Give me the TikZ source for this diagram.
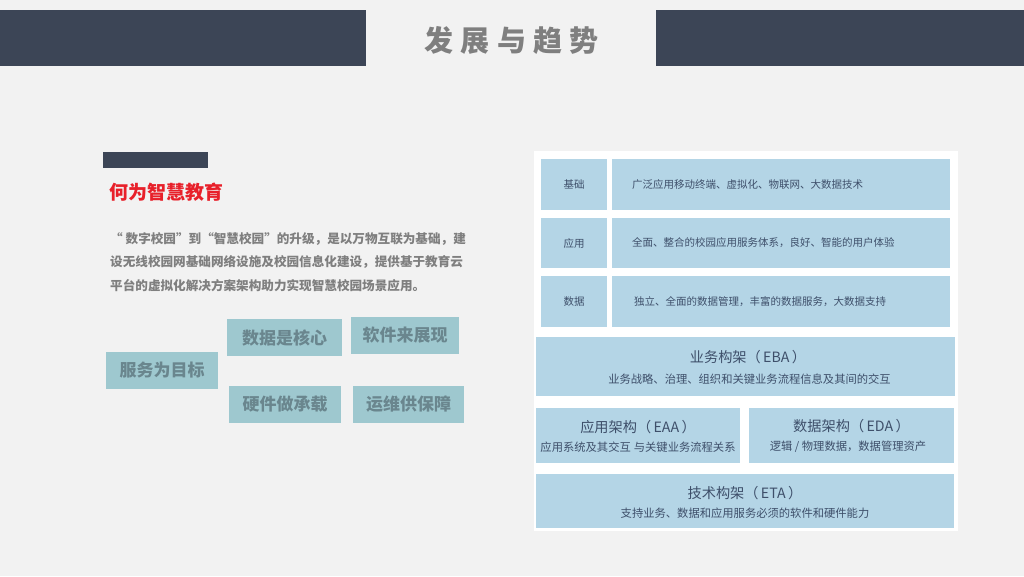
\documentclass[tikz,border=0pt]{standalone}
\usepackage{fontspec}
\setmainfont{Noto Sans CJK SC}
\definecolor{bg}{HTML}{F2F2F2}
\definecolor{bar}{HTML}{3C4556}
\definecolor{ttlgray}{HTML}{7F7F7F}
\definecolor{redt}{HTML}{E8202A}
\definecolor{lbox}{HTML}{9EC8CF}
\definecolor{ltext}{HTML}{6A868E}
\definecolor{rbox}{HTML}{B4D5E6}
\definecolor{rtext}{HTML}{3E4F6A}
\begin{document}
\begin{tikzpicture}[x=1pt,y=-1pt,
  lbx/.style={fill=lbox,draw=none,inner sep=0pt,minimum height=37pt,font=\fontsize{17}{20}\selectfont\bfseries,text=ltext},
  rbx/.style={fill=rbox,draw=none,inner sep=0pt},
  rsmall/.style={font=\fontsize{10.5}{12}\selectfont,text=rtext,inner sep=0pt},
  rtitle/.style={font=\fontsize{14.2}{16}\selectfont,text=rtext,inner sep=0pt},
  rsub/.style={font=\fontsize{11.3}{13}\selectfont,text=rtext,inner sep=0pt}]
\useasboundingbox (0,0) rectangle (1024,576);
\fill[bg] (0,0) rectangle (1024,576);
% banner
\fill[bar] (0,10) rectangle (366,66);
\fill[bar] (656,10) rectangle (1024,66);
\node[inner sep=0pt,text=ttlgray,font=\fontsize{29}{32}\selectfont\bfseries] (title) at (511.5,40)
  {发\hspace{7.5pt}展\hspace{7.5pt}与\hspace{7.5pt}趋\hspace{7.5pt}势};
% left heading
\fill[bar] (103,152) rectangle (208,168);
\node[anchor=west,inner sep=0pt,text=redt,font=\fontsize{19}{21}\selectfont\bfseries] (head) at (109,192) {何为智慧教育};
\node[anchor=north west,inner sep=0pt,align=left,text=ttlgray,font=\fontsize{12.6}{23.5}\selectfont\bfseries] (para) at (110,232)
  {“ 数字校园”到“智慧校园”的升级，是以万物互联为基础，建\\
   设无线校园网基础网络设施及校园信息化建设，提供基于教育云\\
   平台的虚拟化解决方案架构助力实现智慧校园场景应用。};
% left boxes
\node[lbx,minimum width=112pt] (serve) at (162,370.5) {服务为目标};
\node[lbx,minimum width=115pt] (datab) at (284.5,337.5) {数据是核心};
\node[lbx,minimum width=108pt] (soft) at (405,335.5) {软件来展现};
\node[lbx,minimum width=112pt] (hw) at (285,404.5) {硬件做承载};
\node[lbx,minimum width=111pt] (ops) at (408.5,404.5) {运维供保障};
% right panel
\fill[white] (534,151) rectangle (958,531);
\node[rbx,minimum width=66pt,minimum height=51pt] (l1) at (574,184.5) {};
\node[rbx,minimum width=338pt,minimum height=51pt] (t1) at (781,184.5) {};
\node[rbx,minimum width=66pt,minimum height=50pt] (l2) at (574,243) {};
\node[rbx,minimum width=338pt,minimum height=50pt] (t2) at (781,243) {};
\node[rbx,minimum width=66pt,minimum height=51pt] (l3) at (574,301.5) {};
\node[rbx,minimum width=338pt,minimum height=51pt] (t3) at (781,301.5) {};
\node[rsmall] (l1t) at (l1.center) {基础};
\node[rsmall] (l2t) at (l2.center) {应用};
\node[rsmall] (l3t) at (l3.center) {数据};
\node[rsmall,anchor=west] (t1t) at (632,184.5) {广泛应用移动终端、虚拟化、物联网、大数据技术};
\node[rsmall,anchor=west] (t2t) at (632,243) {全面、整合的校园应用服务体系，良好、智能的用户体验};
\node[rsmall,anchor=west] (t3t) at (634,301.5) {独立、全面的数据管理，丰富的数据服务，大数据支持};
% architecture boxes
\node[rbx,minimum width=419pt,minimum height=59pt] (eba) at (745.5,366.5) {};
\node[rtitle] (ebat) at (748,357) {业务构架（\,EBA\,）};
\node[rsub] (ebas) at (749.5,379) {业务战略、治理、组织和关键业务流程信息及其间的交互};
\node[rbx,minimum width=204pt,minimum height=55pt] (eaa) at (638,435.5) {};
\node[rtitle] (eaat) at (638,427) {应用架构（\,EAA\,）};
\node[rsub] (eaas) at (638,447) {应用系统及其交互\hspace{3pt}与关键业务流程关系};
\node[rbx,minimum width=205pt,minimum height=55pt] (eda) at (851.5,435.5) {};
\node[rtitle] (edat) at (851.5,426) {数据架构（\,EDA\,）};
\node[rsub] (edas) at (848,447) {逻辑 / 物理数据，数据管理资产};
\node[rbx,minimum width=418pt,minimum height=54pt] (eta) at (745,501) {};
\node[rtitle] (etat) at (745,493) {技术构架（\,ETA\,）};
\node[rsub] (etas) at (745,513) {支持业务、数据和应用服务必须的软件和硬件能力};
\end{tikzpicture}
\end{document}
